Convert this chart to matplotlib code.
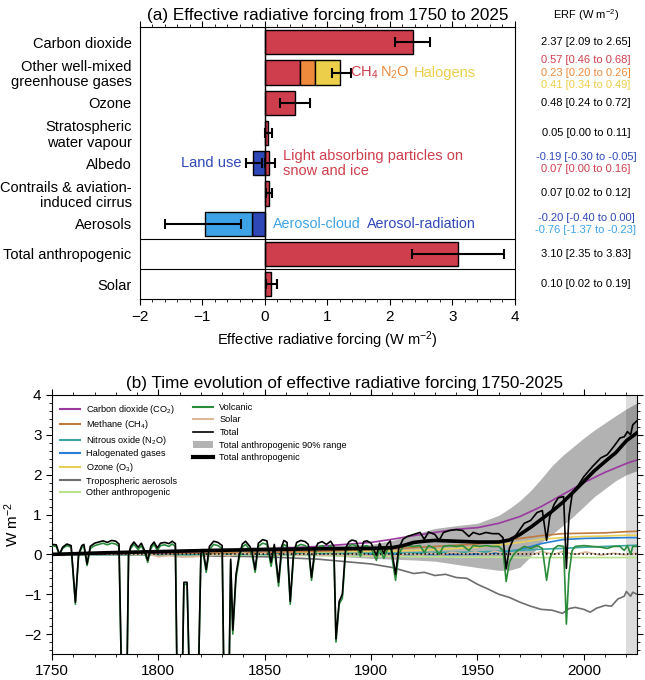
import matplotlib
matplotlib.use("Agg")
import matplotlib.pyplot as plt
from matplotlib.lines import Line2D
from matplotlib.patches import Patch
from matplotlib.ticker import MultipleLocator

plt.rcParams["font.family"] = ["Liberation Sans", "DejaVu Sans"]
plt.rcParams["mathtext.default"] = "regular"

# ---------------- panel (a) data ----------------
row_labels = ["Carbon dioxide", "Other well-mixed\ngreenhouse gases", "Ozone",
              "Stratospheric\nwater vapour", "Albedo", "Contrails & aviation-\ninduced cirrus",
              "Aerosols", "Total anthropogenic", "Solar"]

single_cats = ["Carbon dioxide", "Ozone", "Stratospheric\nwater vapour",
               "Contrails & aviation-\ninduced cirrus", "Total anthropogenic", "Solar"]
single_vals = [2.37, 0.48, 0.05, 0.07, 3.10, 0.10]
single_lo = [2.09, 0.24, 0.00, 0.02, 2.35, 0.02]
single_hi = [2.65, 0.72, 0.11, 0.12, 3.83, 0.19]

ghg_names = ["CH$_4$", "N$_2$O", "Halogens"]
ghg_vals = [0.57, 0.23, 0.41]
ghg_range = [1.08, 1.38]

albedo_names = ["Land use", "Light absorbing particles on\nsnow and ice"]
albedo_vals = [-0.19, 0.07]
albedo_lo = [-0.30, 0.00]
albedo_hi = [-0.05, 0.16]

aer_names = ["Aerosol-radiation", "Aerosol-cloud"]
aer_vals = [-0.20, -0.76]
aer_range = [-1.60, -0.38]

erf_texts = ["2.37 [2.09 to 2.65]", "0.57 [0.46 to 0.68]", "0.23 [0.20 to 0.26]",
             "0.41 [0.34 to 0.49]", "0.48 [0.24 to 0.72]", "0.05 [0.00 to 0.11]",
             "-0.19 [-0.30 to -0.05]", "0.07 [0.00 to 0.16]", "0.07 [0.02 to 0.12]",
             "-0.20 [-0.40 to 0.00]", "-0.76 [-1.37 to -0.23]", "3.10 [2.35 to 3.83]",
             "0.10 [0.02 to 0.19]"]

# ---------------- panel (b) data ----------------
ghg_years = [1750, 1800, 1850, 1875, 1900, 1910, 1920, 1930, 1940, 1950, 1960, 1970,
             1980, 1990, 2000, 2010, 2020, 2025]
co2 = [0.0, 0.04, 0.13, 0.2, 0.3, 0.38, 0.47, 0.55, 0.63, 0.67, 0.78, 0.95,
       1.2, 1.5, 1.8, 2.06, 2.28, 2.37]
ch4 = [0.0, 0.02, 0.05, 0.08, 0.12, 0.14, 0.17, 0.2, 0.23, 0.26, 0.33, 0.4,
       0.47, 0.52, 0.53, 0.54, 0.57, 0.58]
n2o = [0.0, 0.0, 0.01, 0.02, 0.03, 0.03, 0.04, 0.05, 0.05, 0.06, 0.08, 0.1,
       0.13, 0.15, 0.18, 0.2, 0.22, 0.23]
halo = [0.0, 0.0, 0.0, 0.0, 0.0, 0.0, 0.0, 0.0, 0.0, 0.01, 0.04, 0.12,
        0.27, 0.37, 0.4, 0.41, 0.42, 0.42]
ozone = [0.0, 0.01, 0.02, 0.04, 0.07, 0.08, 0.1, 0.12, 0.15, 0.18, 0.24, 0.3,
         0.38, 0.42, 0.45, 0.46, 0.48, 0.48]
other = [0.0, -0.01, -0.02, -0.03, -0.05, -0.05, -0.06, -0.06, -0.07, -0.07, -0.07, -0.08,
         -0.08, -0.08, -0.08, -0.08, -0.08, -0.08]

aer_years = [1750, 1800, 1850, 1875, 1900, 1910, 1920, 1925, 1930, 1935, 1940, 1945, 1950,
             1955, 1960, 1965, 1970, 1975, 1980, 1985, 1990, 1993, 1996, 2000, 2003, 2006,
             2010, 2013, 2016, 2019, 2020, 2022, 2023, 2025]
trop_aer = [0.0, -0.02, -0.06, -0.12, -0.24, -0.33, -0.48, -0.45, -0.53, -0.5, -0.58, -0.6,
            -0.75, -0.87, -1.0, -1.08, -1.2, -1.3, -1.38, -1.4, -1.48, -1.36, -1.33, -1.38,
            -1.45, -1.35, -1.28, -1.3, -1.12, -1.05, -0.93, -1.05, -0.95, -1.0]

solar_years = [1750, 1755, 1761, 1766, 1772, 1778, 1784, 1789, 1795, 1800, 1805, 1811, 1816,
               1822, 1828, 1833, 1839, 1844, 1850, 1855, 1860, 1866, 1871, 1877, 1883, 1888,
               1894, 1900, 1906, 1912, 1917, 1923, 1928, 1933, 1938, 1944, 1949, 1954, 1958,
               1964, 1969, 1976, 1980, 1986, 1990, 1996, 2001, 2008, 2014, 2019, 2025]
solar = [0.03, -0.03, 0.04, -0.02, 0.05, 0.0, 0.05, -0.01, 0.02, -0.06, -0.03, -0.07, -0.06,
         -0.04, 0.0, -0.04, 0.04, 0.0, 0.03, -0.02, 0.03, -0.02, 0.03, -0.03, 0.01, -0.03,
         0.02, -0.04, 0.0, -0.04, 0.02, -0.02, 0.03, -0.01, 0.05, 0.01, 0.06, 0.0, 0.08,
         0.01, 0.05, 0.0, 0.07, 0.0, 0.07, 0.0, 0.06, -0.02, 0.03, -0.01, 0.03]

volc_years = [1750, 1752, 1753.5, 1755, 1757, 1759, 1761, 1762.5, 1764, 1765, 1766.5, 1768,
              1770, 1772, 1774, 1776, 1778, 1780, 1781.5, 1783, 1785, 1786, 1787, 1788.5,
              1790.5, 1792, 1793.5, 1795, 1796.5, 1798, 1799.5, 1801, 1803, 1805, 1806.5,
              1808, 1809, 1811, 1812, 1813.5, 1815, 1818.5, 1820, 1821, 1822.5, 1824, 1826,
              1828, 1830, 1831, 1833, 1834, 1835, 1836.5, 1838, 1839.5, 1841, 1843, 1844,
              1845.5, 1847, 1849, 1851, 1853, 1854.5, 1856.5, 1858, 1859, 1860.5, 1862,
              1863.5, 1865, 1867, 1869, 1870.5, 1872, 1873.5, 1875, 1877, 1879, 1881,
              1882.5, 1883.5, 1885, 1886.5, 1888, 1889.5, 1891, 1893, 1895, 1896.5, 1898,
              1900, 1902.5, 1904, 1906, 1907.5, 1909, 1911.5, 1913, 1915, 1917, 1920, 1923,
              1925, 1927, 1930, 1932, 1934, 1937, 1940, 1943, 1946, 1948, 1951, 1954, 1957,
              1960, 1962, 1963.5, 1965, 1967, 1969, 1972, 1975, 1978, 1980.5, 1982.5, 1984,
              1986, 1988, 1990.5, 1991.8, 1993, 1994.5, 1996, 2000, 2004, 2008, 2011, 2014,
              2017, 2019, 2020.5, 2022, 2023, 2025]
volcanic = [0.22, 0.2, -0.02, 0.15, 0.22, 0.18, -1.25, -0.05, 0.18, 0.2, -0.28, 0.15,
            0.22, 0.25, 0.28, 0.24, 0.28, 0.26, 0.2, -4.0, -4.0, -0.05, 0.15, 0.25,
            0.12, 0.22, 0.05, -0.2, 0.15, 0.25, 0.1, 0.22, 0.24, 0.2, 0.26,
            0.2, -4.0, -4.0, -0.75, -0.75, -4.0, -4.0, -0.05, 0.05, -0.45, 0.12, 0.25,
            0.22, 0.15, -4.0, -4.0, -0.2, -2.0, -0.6, -0.1, 0.18, 0.25, 0.12, 0.0,
            -0.45, 0.2, 0.28, 0.25, -0.3, 0.15, -0.8, 0.1, 0.25, 0.2, -1.25,
            -0.1, 0.2, 0.25, 0.22, 0.15, -0.65, 0.0, 0.18, 0.22, 0.15, 0.22,
            0.1, -2.2, -1.25, -1.1, 0.05, 0.2, 0.25, 0.22, -0.05, 0.2, 0.22,
            0.15, -0.15, 0.15, -0.1, 0.1, 0.2, -0.65, 0.0, 0.2, 0.22, 0.2, 0.22,
            0.05, 0.22, 0.15, 0.0, 0.2, 0.22, 0.2, 0.22, 0.1, 0.22, 0.2, 0.22, 0.2,
            0.2, 0.1, -0.68, -0.2, 0.0, 0.1, 0.2, 0.15, 0.22, 0.15, -0.65, -0.1,
            0.15, 0.22, 0.2, -1.75, -0.5, 0.1, 0.2, 0.22, 0.2, 0.18, 0.15, 0.2,
            0.2, 0.1, 0.22, 0.0, 0.2, 0.2]
total = [0.25, 0.24, 0.0, 0.18, 0.26, 0.22, -1.2, 0.0, 0.22, 0.25, -0.24, 0.2,
         0.28, 0.31, 0.34, 0.3, 0.35, 0.33, 0.26, -4.0, -4.0, 0.0, 0.2, 0.31,
         0.18, 0.28, 0.1, -0.15, 0.21, 0.31, 0.16, 0.28, 0.3, 0.27, 0.33,
         0.27, -4.0, -4.0, -0.7, -0.7, -4.0, -4.0, 0.02, 0.12, -0.38, 0.2, 0.33,
         0.3, 0.22, -4.0, -4.0, -0.12, -1.9, -0.5, -0.02, 0.26, 0.33, 0.2, 0.08,
         -0.38, 0.28, 0.37, 0.34, -0.2, 0.25, -0.7, 0.2, 0.35, 0.3, -1.18,
         0.0, 0.3, 0.35, 0.32, 0.25, -0.58, 0.1, 0.28, 0.32, 0.25, 0.33,
         0.2, -2.12, -1.18, -1.0, 0.15, 0.31, 0.36, 0.33, 0.05, 0.32, 0.34,
         0.28, -0.03, 0.28, 0.02, 0.24, 0.34, -0.5, 0.15, 0.38, 0.45, 0.5, 0.55,
         0.38, 0.56, 0.5, 0.35, 0.55, 0.6, 0.62, 0.6, 0.45, 0.55, 0.5, 0.55, 0.52,
         0.52, 0.42, -0.36, 0.15, 0.4, 0.55, 0.78, 0.85, 1.05, 1.1, 0.35, 0.95,
         1.25, 1.42, 1.45, -0.35, 0.95, 1.5, 1.62, 1.95, 2.2, 2.42, 2.5, 2.7,
         2.92, 2.95, 3.08, 3.0, 3.25, 3.35]

anthro_years = [1750, 1775, 1800, 1825, 1850, 1875, 1900, 1910, 1915, 1920, 1925, 1930,
                1940, 1950, 1960, 1965, 1970, 1975, 1980, 1985, 1990, 1995, 2000, 2005,
                2010, 2015, 2020, 2025]
total_anthro = [0.0, 0.04, 0.07, 0.1, 0.12, 0.14, 0.15, 0.17, 0.22, 0.3, 0.33, 0.35,
                0.33, 0.31, 0.31, 0.36, 0.5, 0.68, 0.88, 1.08, 1.3, 1.56, 1.83, 2.1,
                2.33, 2.55, 2.85, 3.05]

range_years = [1750, 1800, 1850, 1875, 1900, 1910, 1920, 1930, 1940, 1950, 1960, 1965, 1970,
               1975, 1980, 1985, 1990, 1995, 2000, 2005, 2010, 2015, 2020, 2025]
range_hi = [0.02, 0.1, 0.2, 0.22, 0.25, 0.35, 0.5, 0.65, 0.72, 0.78, 0.98, 1.15, 1.35,
            1.6, 1.9, 2.22, 2.48, 2.7, 2.92, 3.12, 3.3, 3.48, 3.65, 3.8]
range_lo = [-0.02, 0.02, 0.03, -0.02, -0.1, -0.12, -0.14, -0.17, -0.25, -0.33, -0.4, -0.4,
            -0.32, -0.05, 0.3, 0.5, 0.72, 0.95, 1.2, 1.45, 1.65, 1.85, 2.0, 2.1]

RED = "#cf3e4c"
ORANGE = "#ee8a3c"
YELLOW = "#ecce4a"
DBLUE = "#2f48b8"
LBLUE = "#3ea3e6"

fig = plt.figure(figsize=(6.45, 6.8), dpi=100)

# ================= panel (a) =================
ax = fig.add_axes([0.217, 0.560, 0.581, 0.400])
rows = {lab: i for i, lab in enumerate(row_labels)}
bh = 0.8
ekw = dict(fmt="none", ecolor="k", elinewidth=1.5, capsize=3.5, capthick=1.5, zorder=3)

for cat, v, lo, hi in zip(single_cats, single_vals, single_lo, single_hi):
    y = rows[cat]
    ax.barh(y, v, height=bh, color=RED, edgecolor="k", linewidth=1, zorder=2)
    ax.errorbar(v, y, xerr=[[v - lo], [hi - v]], **ekw)

# stacked well-mixed GHGs
y = rows[row_labels[1]]
left = 0
for v, c in zip(ghg_vals, [RED, ORANGE, YELLOW]):
    ax.barh(y, v, left=left, height=bh, color=c, edgecolor="k", linewidth=1, zorder=2)
    left += v
ax.errorbar(left, y, xerr=[[left - ghg_range[0]], [ghg_range[1] - left]], **ekw)
ax.text(1.37, y, ghg_names[0], color=RED, fontsize=10.5, va="center")
ax.text(1.85, y, ghg_names[1], color=ORANGE, fontsize=10.5, va="center")
ax.text(2.38, y, ghg_names[2], color=YELLOW, fontsize=10.5, va="center")

# albedo
y = rows["Albedo"]
for v, c in zip(albedo_vals, [DBLUE, RED]):
    ax.barh(y, v, height=bh, color=c, edgecolor="k", linewidth=1, zorder=2)
for v, lo, hi in zip(albedo_vals, albedo_lo, albedo_hi):
    ax.errorbar(v, y, xerr=[[v - lo], [hi - v]], **ekw)
ax.text(-0.38, y, albedo_names[0], color=DBLUE, fontsize=10.5, va="center", ha="right")
ax.text(0.29, y, albedo_names[1], color=RED, fontsize=10.5, va="center", ha="left",
        linespacing=1.1)

# aerosols
y = rows["Aerosols"]
ax.barh(y, aer_vals[0], height=bh, color=DBLUE, edgecolor="k", linewidth=1, zorder=2)
ax.barh(y, aer_vals[1], left=aer_vals[0], height=bh, color=LBLUE, edgecolor="k",
        linewidth=1, zorder=2)
tot_aer = aer_vals[0] + aer_vals[1]
ax.errorbar(tot_aer, y, xerr=[[tot_aer - aer_range[0]], [aer_range[1] - tot_aer]], **ekw)
ax.text(0.13, y, aer_names[1], color=LBLUE, fontsize=10.3, va="center")
ax.text(1.63, y, aer_names[0], color=DBLUE, fontsize=10.3, va="center")

ax.axvline(0, color="k", lw=1, zorder=4)
ax.axhline(6.5, color="k", lw=0.8)
ax.axhline(7.5, color="k", lw=0.8)

ax.set_xlim(-2, 4)
ax.set_ylim(8.5, -0.5)
ax.set_yticks(range(len(row_labels)))
ax.set_yticklabels(row_labels, fontsize=10.5, linespacing=1.1)
ax.tick_params(axis="y", length=0, pad=6)
ax.set_xticks([-2, -1, 0, 1, 2, 3, 4])
ax.set_xticklabels(["\u22122", "\u22121", "0", "1", "2", "3", "4"])
ax.xaxis.set_minor_locator(MultipleLocator(0.2))
ax.tick_params(axis="x", which="both", top=True, direction="out", labelsize=11)
ax.tick_params(axis="x", which="major", length=4)
ax.tick_params(axis="x", which="minor", length=2)
ax.set_xlabel("Effective radiative forcing (W m$^{-2}$)", fontsize=10.5, labelpad=4)
ax.set_title("(a) Effective radiative forcing from 1750 to 2025", fontsize=12.3, pad=5)

erf_y = [0.0, 0.6, 1.0, 1.4, 2.0, 3.0, 3.8, 4.2, 5.0, 5.8, 6.2, 7.0, 8.0]
erf_colors = ["k", RED, ORANGE, YELLOW, "k", "k", DBLUE, RED, "k", DBLUE, LBLUE, "k", "k"]
tr = ax.get_yaxis_transform()
for s, yy, c in zip(erf_texts, erf_y, erf_colors):
    ax.text(1.19, yy, s, color=c, fontsize=8, ha="center", va="center",
            transform=tr, clip_on=False)
ax.text(1.19, -0.9, "ERF (W m$^{-2}$)", fontsize=8, ha="center", va="center",
        transform=tr, clip_on=False)

# ================= panel (b) =================
bx = fig.add_axes([0.0806, 0.0382, 0.907, 0.381])
bx.axvspan(2020, 2025, color="#dcdcdc", lw=0, zorder=0)
bx.fill_between(range_years, range_lo, range_hi, color="k", alpha=0.3, lw=0, zorder=1)

C_CO2 = "#9a3aa0"
C_CH4 = "#c07a3c"
C_N2O = "#3aa6a6"
C_HALO = "#2a7fd4"
C_O3 = "#e8cf55"
C_AER = "#6e6e6e"
C_OTH = "#b8e28c"
C_VOL = "#2a8c3a"
C_SOL = "#dcb898"

lw = 1.2
bx.plot(aer_years, trop_aer, color=C_AER, lw=lw, zorder=2)
bx.plot(ghg_years, other, color=C_OTH, lw=lw, zorder=2)
bx.plot(ghg_years, ozone, color=C_O3, lw=lw, zorder=2)
bx.plot(ghg_years, halo, color=C_HALO, lw=lw, zorder=2)
bx.plot(ghg_years, n2o, color=C_N2O, lw=lw, zorder=2)
bx.plot(ghg_years, ch4, color=C_CH4, lw=lw, zorder=2)
bx.plot(ghg_years, co2, color=C_CO2, lw=lw, zorder=2)
bx.plot(solar_years, solar, color=C_SOL, lw=lw, zorder=2)
bx.axhline(0, color="k", ls=":", lw=1.1, zorder=2.5)
bx.plot(volc_years, volcanic, color=C_VOL, lw=lw, zorder=3)
bx.plot(volc_years, total, color="k", lw=lw, zorder=4)
bx.plot(anthro_years, total_anthro, color="k", lw=2.6, zorder=5)

bx.set_xlim(1750, 2025)
bx.set_ylim(-2.5, 4)
bx.xaxis.set_major_locator(MultipleLocator(50))
bx.xaxis.set_minor_locator(MultipleLocator(10))
bx.set_yticks([-2, -1, 0, 1, 2, 3, 4])
bx.set_yticklabels(["\u22122", "\u22121", "0", "1", "2", "3", "4"])
bx.yaxis.set_minor_locator(MultipleLocator(0.2))
bx.tick_params(which="both", top=True, right=True, labelsize=11)
bx.tick_params(which="major", length=4)
bx.tick_params(which="minor", length=2)
bx.set_ylabel("W m$^{-2}$", fontsize=11, labelpad=2)
bx.set_title("(b) Time evolution of effective radiative forcing 1750-2025", fontsize=12.3, pad=5)

h1 = [Line2D([], [], color=c, lw=1.5) for c in [C_CO2, C_CH4, C_N2O, C_HALO, C_O3, C_AER, C_OTH]]
l1 = ["Carbon dioxide (CO$_2$)", "Methane (CH$_4$)", "Nitrous oxide (N$_2$O)",
      "Halogenated gases", "Ozone (O$_3$)", "Tropospheric aerosols", "Other anthropogenic"]
leg1 = bx.legend(h1, l1, loc="upper left", bbox_to_anchor=(0.0, 1.0), frameon=False,
                 fontsize=6.6, handlelength=2.2, handletextpad=0.65, labelspacing=0.28,
                 borderaxespad=0.45)
bx.add_artist(leg1)
h2 = [Line2D([], [], color=C_VOL, lw=1.5), Line2D([], [], color=C_SOL, lw=1.5),
      Line2D([], [], color="k", lw=1.2), Patch(facecolor="#b3b3b3", edgecolor="none"),
      Line2D([], [], color="k", lw=3)]
l2 = ["Volcanic", "Solar", "Total", "Total anthropogenic 90% range", "Total anthropogenic"]
bx.legend(h2, l2, loc="upper left", bbox_to_anchor=(0.228, 1.0), frameon=False,
          fontsize=6.6, handlelength=2.2, handletextpad=0.65, labelspacing=0.4,
          borderaxespad=0.45)

fig.savefig("out.png", dpi=100)
